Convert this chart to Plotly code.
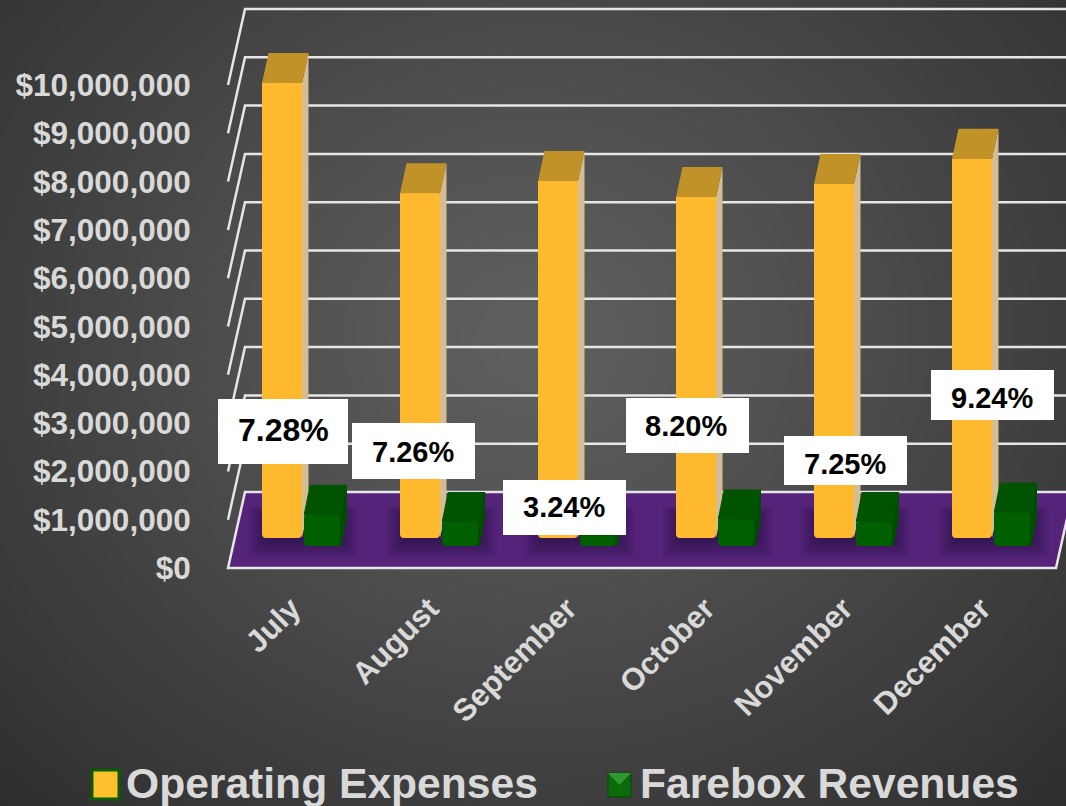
import base64, struct, zlib
import numpy as np
import plotly.graph_objects as go

months = ["July", "August", "September", "October", "November", "December"]
operating_expenses = [9420000, 7140000, 7390000, 7060000, 7330000, 7850000]
farebox_revenues = [680000, 530000, 240000, 580000, 530000, 720000]
pct_labels = ["7.28%", "7.26%", "3.24%", "8.20%", "7.25%", "9.24%"]
y_tick_values = [i * 1000000 for i in range(11)]
y_tick_labels = ["$0", "$1,000,000", "$2,000,000", "$3,000,000", "$4,000,000", "$5,000,000",
                 "$6,000,000", "$7,000,000", "$8,000,000", "$9,000,000", "$10,000,000"]

# ---- layout constants (pixels of the 1066x806 page)
W, H = 1066, 806
PX_PER_M = 48.3
Y0 = 568
CAT0, CAT_STEP = 302.5, 138.0

def ux(px):  # pixels -> x-axis units
    return (px - CAT0) / CAT_STEP
def uw(px):
    return px / CAT_STEP
def uy(px):  # pixels height -> value units
    return px / PX_PER_M * 1e6

FONT = "Liberation Sans"
TXT = "#d9d9d9"
WALL_DX, WALL_DY = uw(17), uy(76)

# ---- page background: radial grey gradient as a PNG
def background():
    w, h = 533, 403
    yy, xx = np.mgrid[0:h, 0:w]
    r = np.hypot((xx - w / 2) / (w * 0.72), (yy - h * 0.42) / (h * 0.82))
    v = np.clip(96 - 50 * np.clip(r, 0, 1) ** 1.1, 0, 255).astype(np.uint8)
    raw = b"".join(b"\x00" + row.tobytes() for row in v)
    def chunk(t, d):
        return struct.pack(">I", len(d)) + t + d + struct.pack(">I", zlib.crc32(t + d))
    png = (b"\x89PNG\r\n\x1a\n" + chunk(b"IHDR", struct.pack(">IIBBBBB", w, h, 8, 0, 0, 0, 0))
           + chunk(b"IDAT", zlib.compress(raw, 9)) + chunk(b"IEND", b""))
    return "data:image/png;base64," + base64.b64encode(png).decode()

shapes = []
# floor
floor_l, floor_r = ux(228), ux(1056)
fx = [floor_l, floor_r, floor_r + WALL_DX, floor_l + WALL_DX]
fy = [0, 0, WALL_DY, WALL_DY]
shapes.append(dict(type="path", xref="x", yref="y", layer="below",
                   path="M" + " L".join(f"{a},{b}" for a, b in zip(fx, fy)) + " Z",
                   fillcolor="#55247a", line=dict(color="#e8e4ec", width=2.5)))
# gridlines: side wall + back wall
for v in y_tick_values[1:]:
    xs = [floor_l, floor_l + WALL_DX, ux(W + 10)]
    ys = [v, v + WALL_DY, v + WALL_DY]
    shapes.append(dict(type="path", xref="x", yref="y", layer="below",
                       path="M" + " L".join(f"{a},{b}" for a, b in zip(xs, ys)),
                       line=dict(color="#e6e6e6", width=2.5)))
# soft shadows on the floor
for i in range(len(months)):
    for k in range(12):
        inset = k * 2.0
        shapes.append(dict(type="rect", xref="x", yref="y", layer="below",
                           x0=i + uw(-54 + inset), x1=i + uw(56 - inset),
                           y0=uy(10 + inset), y1=uy(62 - inset * 0.6),
                           fillcolor="rgba(30,8,50,0.07)", line=dict(width=0)))

fig = go.Figure()

# ---- orange series
O_OFF, O_W = uw(-20.5), uw(40)
O_BASE = uy(30)
O_DX, O_DY = uw(6.5), uy(30)
xo = [i + O_OFF for i in range(len(months))]
fig.add_trace(go.Bar(x=xo, y=operating_expenses, base=O_BASE, width=O_W, name="Operating Expenses",
                     marker=dict(color="#ffb92e", line=dict(width=0), cornerradius=4), showlegend=False))
for x, v in zip(xo, operating_expenses):
    top = O_BASE + v
    r = x + O_W / 2
    l = x - O_W / 2
    fig.add_trace(go.Scatter(x=[r, r + O_DX, r + O_DX, r], y=[O_BASE, O_BASE + O_DY, top + O_DY, top],
                             fill="toself", fillcolor="#d4bd93", mode="none", hoverinfo="skip", showlegend=False))
    fig.add_trace(go.Scatter(x=[l, r, r + O_DX, l + O_DX], y=[top, top, top + O_DY, top + O_DY],
                             fill="toself", fillcolor="#c19227", mode="none", hoverinfo="skip", showlegend=False))
    # squares off the bar's upper corners (only the foot of the bar is rounded)
    fig.add_trace(go.Scatter(x=[l, r, r, l], y=[top, top, top - uy(6), top - uy(6)],
                             fill="toself", fillcolor="#ffb92e", mode="none", hoverinfo="skip", showlegend=False))

# ---- green series (overlay axes so it sits in front of the orange faces)
G_OFF, G_W = uw(19.5), uw(36)
G_BASE = uy(22)
G_DX, G_DY = uw(5.5), uy(27)
xg = [i + G_OFF for i in range(len(months))]
fig.add_trace(go.Bar(x=xg, y=farebox_revenues, base=G_BASE, width=G_W, name="Farebox Revenues",
                     marker=dict(color="#006000", line=dict(width=0), cornerradius=4),
                     xaxis="x2", yaxis="y2", showlegend=False))
for x, v in zip(xg, farebox_revenues):
    top = G_BASE + v
    r = x + G_W / 2
    l = x - G_W / 2
    fig.add_trace(go.Scatter(x=[r, r + G_DX, r + G_DX, r], y=[G_BASE, G_BASE + G_DY, top + G_DY, top],
                             fill="toself", fillcolor="#004c00", mode="lines", line=dict(color="#004c00", width=3),
                             hoverinfo="skip", showlegend=False, xaxis="x2", yaxis="y2"))
    fig.add_trace(go.Scatter(x=[l, r, r + G_DX, l + G_DX], y=[top, top, top + G_DY, top + G_DY],
                             fill="toself", fillcolor="#005300", mode="lines", line=dict(color="#005300", width=3),
                             hoverinfo="skip", showlegend=False, xaxis="x2", yaxis="y2"))

# ---- percentage boxes: (left, top, right, bottom), text centre (x, y), font size
boxes = [(218, 399, 348, 464), (352, 423, 475, 479), (503, 480, 626, 535),
         (626, 398, 749, 453), (784, 436, 907, 485), (931, 370, 1054, 420)]
box_text = [(283, 430, 32), (413, 452, 29), (564, 507, 29), (686, 426, 29), (845, 464, 29), (992, 398, 29)]

def pr(x0, y0, x1, y1, color, line=None):
    return dict(type="rect", xref="paper", yref="paper", x0=x0 / W, x1=x1 / W, y0=1 - y0 / H, y1=1 - y1 / H,
                fillcolor=color, line=line or dict(width=0))

annotations = []
for label, (a, b, c, d), (tx, ty, fs) in zip(pct_labels, boxes, box_text):
    shapes.append(pr(a, b, c, d, "#ffffff"))
    annotations.append(dict(text=f"<b>{label}</b>", xref="paper", yref="paper",
                            x=tx / W, y=1 - ty / H, xanchor="center", yanchor="middle", showarrow=False,
                            font=dict(family=FONT, size=fs, color="#000000")))

# ---- hand-built legend
annotations.append(dict(text="<b>Operating Expenses</b>", xref="paper", yref="paper", x=124 / W, y=1 - 783 / H,
                        xanchor="left", yanchor="middle", showarrow=False, font=dict(family=FONT, size=42.6, color=TXT)))
annotations.append(dict(text="<b>Farebox Revenues</b>", xref="paper", yref="paper", x=638 / W, y=1 - 783 / H,
                        xanchor="left", yanchor="middle", showarrow=False, font=dict(family=FONT, size=42.6, color=TXT)))
shapes.append(pr(92, 770, 119, 799, "#ffc02e", dict(color="#0a5c00", width=3)))
shapes.append(pr(608, 773, 631, 797, "#0c6a0c", dict(color="#064806", width=1)))
shapes.append(dict(type="path", xref="paper", yref="paper",
                   path=f"M{608/W},{1-773/H} L{631/W},{1-773/H} L{619.5/W},{1-785/H} Z",
                   fillcolor="#2f9a2f", line=dict(width=0)))

x_range = [ux(0), ux(W)]
y_range = [uy(Y0 - H), uy(Y0)]

fig.update_layout(
    width=W, height=H, autosize=False,
    margin=dict(l=0, r=0, t=0, b=0),
    paper_bgcolor="#444444", plot_bgcolor="rgba(0,0,0,0)",
    barmode="overlay",
    showlegend=False,
    images=[dict(source=background(), xref="paper", yref="paper", x=0, y=1, sizex=1, sizey=1,
                 sizing="stretch", layer="below")],
    shapes=shapes,
    annotations=annotations,
    xaxis=dict(domain=[0, 1], range=x_range, anchor="free", position=(H - 577) / H, showgrid=False,
               zeroline=False, showline=False, tickmode="array",
               tickvals=[i - uw(11) for i in range(len(months))],
               ticktext=months, tickangle=-45, ticks="outside", ticklen=0,
               tickfont=dict(family=FONT, size=31, color=TXT, weight="bold")),
    yaxis=dict(domain=[0, 1], range=y_range, anchor="free", position=228 / W, showgrid=False,
               zeroline=False, showline=False, tickmode="array", tickvals=y_tick_values,
               ticktext=y_tick_labels, ticks="outside", ticklen=31, tickcolor="rgba(0,0,0,0)",
               tickfont=dict(family=FONT, size=31.5, color=TXT, weight="bold")),
    xaxis2=dict(overlaying="x", matches="x", visible=False),
    yaxis2=dict(overlaying="y", matches="y", visible=False),
)

fig.write_html("out.html", config=dict(displayModeBar=False),
               post_script="document.body.style.margin='0';document.body.style.overflow='hidden';"
                           "document.body.style.background='#333333';")
